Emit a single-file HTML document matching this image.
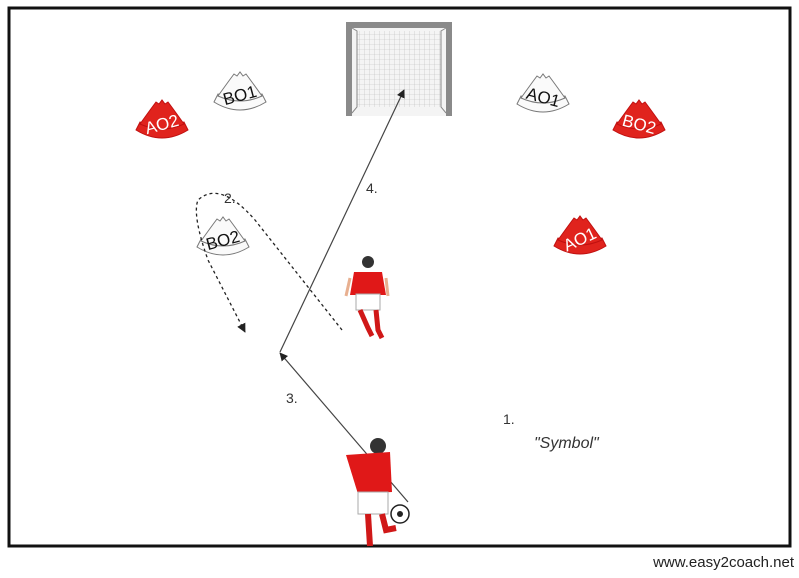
<!DOCTYPE html>
<html><head><meta charset="utf-8"><style>
body{margin:0;background:#fff;}
svg text{font-family:"Liberation Sans",sans-serif;}
</style></head><body>
<svg width="799" height="573" viewBox="0 0 799 573" xmlns="http://www.w3.org/2000/svg">
<defs>
<pattern id="net" width="5" height="5" patternUnits="userSpaceOnUse"><path d="M5 0V5M0 5H5" stroke="#bbb" stroke-width="0.6" fill="none"/></pattern>
<marker id="ah" viewBox="0 0 10 10" refX="9" refY="5" markerWidth="7" markerHeight="7" orient="auto"><path d="M0 0L10 5L0 10z" fill="#222"/></marker>
<g id="cone">
<path d="M-26 10 Q0 26 26 10 L22 2 Q0 14 -22 2Z"/>
<path d="M-22 4 Q-12 -10 -6 -18 L-3 -16 L0 -20 L3 -16 L6 -18 Q12 -10 22 4 Q0 14 -22 4Z"/>
</g>
</defs>
<rect width="799" height="573" fill="#fff"/>
<rect x="9" y="8" width="781" height="538" fill="none" stroke="#111" stroke-width="3"/>
<!-- goal -->
<rect x="346" y="22" width="106" height="94" fill="#8a8a8a"/>
<rect x="352" y="28" width="94" height="88" fill="#f4f4f4"/>
<rect x="357" y="31" width="84" height="76" fill="url(#net)"/>
<path d="M352 28 L357 31 L357 107 L352 113 M446 28 L441 31 L441 107 L446 113" stroke="#888" fill="none"/>
<!-- cones -->
<g fill="#e0231d" stroke="#c01010" stroke-width="1">
<use href="#cone" x="162" y="120"/><use href="#cone" x="639" y="120"/><use href="#cone" x="580" y="236"/>
</g>
<g fill="#fafafa" stroke="#777" stroke-width="1">
<use href="#cone" x="240" y="92"/><use href="#cone" x="543" y="94"/><use href="#cone" x="223" y="237"/>
</g>
<g font-size="17">
<text x="162" y="130" fill="#fff" text-anchor="middle" transform="rotate(-15 162 125)">AO2</text>
<text x="639" y="130" fill="#fff" text-anchor="middle" transform="rotate(15 639 125)">BO2</text>
<text x="580" y="245" fill="#fff" text-anchor="middle" transform="rotate(-25 580 240)">AO1</text>
<text x="240" y="101" fill="#111" text-anchor="middle" transform="rotate(-15 240 96)">BO1</text>
<text x="543" y="103" fill="#111" text-anchor="middle" transform="rotate(15 543 98)">AO1</text>
<text x="223" y="246" fill="#111" text-anchor="middle" transform="rotate(-15 223 241)">BO2</text>
</g>
<!-- arrows -->
<line x1="280" y1="352" x2="404" y2="90" stroke="#444" stroke-width="1.2" marker-end="url(#ah)"/>
<line x1="408" y1="502" x2="280" y2="353" stroke="#444" stroke-width="1.2" marker-end="url(#ah)"/>
<path d="M342 330 L255 220 Q220 180 198 200 Q192 215 208 260 L245 332" fill="none" stroke="#222" stroke-width="1.3" stroke-dasharray="3,3" marker-end="url(#ah)"/>
<g font-size="14" fill="#333">
<text x="224" y="203">2.</text><text x="366" y="193">4.</text><text x="286" y="403">3.</text><text x="503" y="424">1.</text>
<text x="534" y="448" font-style="italic" font-size="16">"Symbol"</text>
</g>
<!-- player 1 -->
<g>
<circle cx="368" cy="262" r="6" fill="#333"/>
<path d="M354 272 L382 272 L386 295 L350 295Z" fill="#e01818"/>
<rect x="356" y="294" width="24" height="16" fill="#fff" stroke="#aaa"/>
<path d="M360 310 L368 328 L372 336 M376 310 L378 330 L382 338" stroke="#d01818" stroke-width="5" fill="none"/>
<path d="M350 278 L346 296 M386 278 L388 296" stroke="#e8b090" stroke-width="3"/>
</g>
<!-- player 2 -->
<g>
<circle cx="378" cy="446" r="8" fill="#333"/>
<path d="M346 455 L390 452 L392 492 L358 494Z" fill="#e01818"/>
<rect x="358" y="492" width="30" height="22" fill="#fff" stroke="#aaa"/>
<path d="M368 514 L370 546 M382 514 L386 530 L396 528" stroke="#d01818" stroke-width="6" fill="none"/>
<circle cx="400" cy="514" r="9" fill="#fff" stroke="#222" stroke-width="1.5"/>
<circle cx="400" cy="514" r="3" fill="#222"/>
</g>
<text x="794" y="567" font-size="15" fill="#222" text-anchor="end">www.easy2coach.net</text>
</svg>
</body></html>
